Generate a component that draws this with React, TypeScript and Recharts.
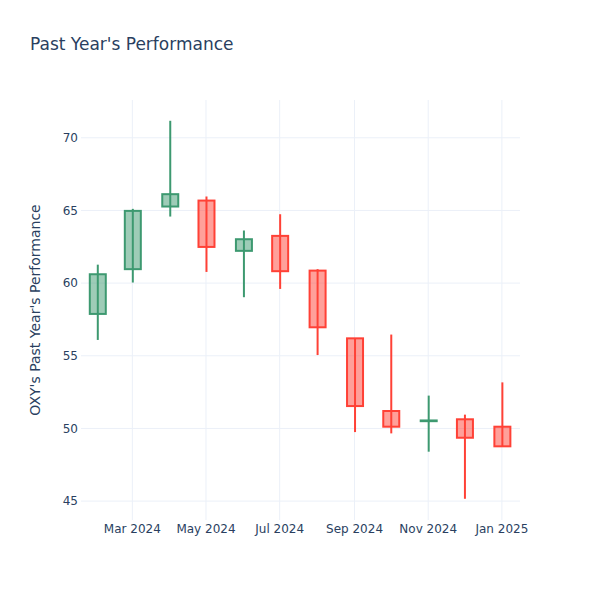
import React from 'react'
import { Bar, CartesianGrid, ComposedChart, XAxis, YAxis } from 'recharts'

// monthly candles, one per month start
const months = [
  '2024-02-01', '2024-03-01', '2024-04-01', '2024-05-01', '2024-06-01', '2024-07-01',
  '2024-08-01', '2024-09-01', '2024-10-01', '2024-11-01', '2024-12-01', '2025-01-01',
]
const opens = [57.88, 60.96, 65.27, 65.68, 62.22, 63.25, 60.86, 56.2, 51.2, 50.5, 50.63, 50.12]
const highs = [61.27, 65.11, 71.17, 65.96, 63.62, 64.74, 60.96, 56.2, 56.46, 52.26, 50.95, 53.17]
const lows = [56.09, 60.04, 64.58, 60.77, 59.03, 59.6, 55.05, 49.75, 49.66, 48.4, 45.16, 48.77]
const closes = [60.61, 64.97, 66.12, 62.49, 63.02, 60.82, 56.96, 51.54, 50.12, 50.55, 49.36, 48.77]

const xTicks = ['2024-03-01', '2024-05-01', '2024-07-01', '2024-09-01', '2024-11-01', '2025-01-01']
const yTicks = [45, 50, 55, 60, 65, 70]
const monthNames = ['Jan', 'Feb', 'Mar', 'Apr', 'May', 'Jun', 'Jul', 'Aug', 'Sep', 'Oct', 'Nov', 'Dec']

const data = months.map((m, i) => ({
  t: Date.parse(m),
  open: opens[i],
  high: highs[i],
  low: lows[i],
  close: closes[i],
}))

const textColor = '#2a3f5f'
const font = '"DejaVu Sans", Verdana, sans-serif'

const Candle = (props: any) => {
  const { x, y, width, height, payload } = props
  const { open, high, low, close } = payload
  const top = Math.min(y, y + height)
  const h = Math.abs(height)
  const k = h / (high - low)
  const yOf = (v: number) => top + (high - v) * k
  const cx = x + width / 2
  const up = close >= open
  const stroke = up ? '#3D9970' : '#FF4136'
  const fill = up ? 'rgba(61,153,112,0.5)' : 'rgba(255,65,54,0.5)'
  const bTop = yOf(Math.max(open, close))
  const bBot = yOf(Math.min(open, close))
  const bw = 16
  return (
    <g>
      <line x1={cx} x2={cx} y1={yOf(high)} y2={yOf(low)} stroke={stroke} strokeWidth={2} />
      <rect x={cx - bw / 2} y={bTop} width={bw} height={Math.max(bBot - bTop, 0.01)} fill={fill} stroke={stroke} strokeWidth={2} />
    </g>
  )
}

const fmtMonth = (t: number) => {
  const d = new Date(t)
  return `${monthNames[d.getUTCMonth()]} ${d.getUTCFullYear()}`
}

const xTickValues = xTicks.map(s => Date.parse(s))

export default function App() {
  return (
    <div style={{ position: 'absolute', left: 0, top: 0, width: 600, height: 600, background: '#fff', fontFamily: font }}>
      <div style={{ position: 'absolute', left: 30, top: 36, fontSize: 17, lineHeight: '17px', color: textColor }}>
        Past Year's Performance
      </div>
      <ComposedChart width={600} height={600} data={data} margin={{ top: 100, right: 80, bottom: 50, left: 0 }}>
        <CartesianGrid stroke="#ebf0f8" strokeWidth={1} horizontalValues={yTicks} verticalValues={xTickValues} />
        <XAxis
          dataKey="t"
          type="number"
          scale="time"
          domain={[Date.UTC(2024, 0, 18, 12), Date.UTC(2025, 0, 16)]}
          allowDataOverflow
          ticks={xTickValues}
          tickFormatter={fmtMonth}
          tickLine={false}
          axisLine={false}
          tickSize={0}
          tickMargin={4}
          height={30}
          tick={{ fill: textColor, fontSize: 12, fontFamily: font }}
        />
        <YAxis
          type="number"
          domain={[43.7, 72.6]}
          allowDataOverflow
          ticks={yTicks}
          tickLine={false}
          axisLine={false}
          tickSize={0}
          tickMargin={3}
          width={81}
          tick={{ fill: textColor, fontSize: 12, fontFamily: font }}
          label={{
            value: "OXY's Past Year's Performance",
            angle: -90,
            position: 'insideLeft',
            offset: 0,
            dx: 35,
            style: { textAnchor: 'middle', fill: textColor, fontSize: 14, fontFamily: font },
          }}
        />
        <Bar dataKey={(d: any) => [d.low, d.high]} barSize={18} shape={<Candle />} isAnimationActive={false} />
      </ComposedChart>
    </div>
  )
}
